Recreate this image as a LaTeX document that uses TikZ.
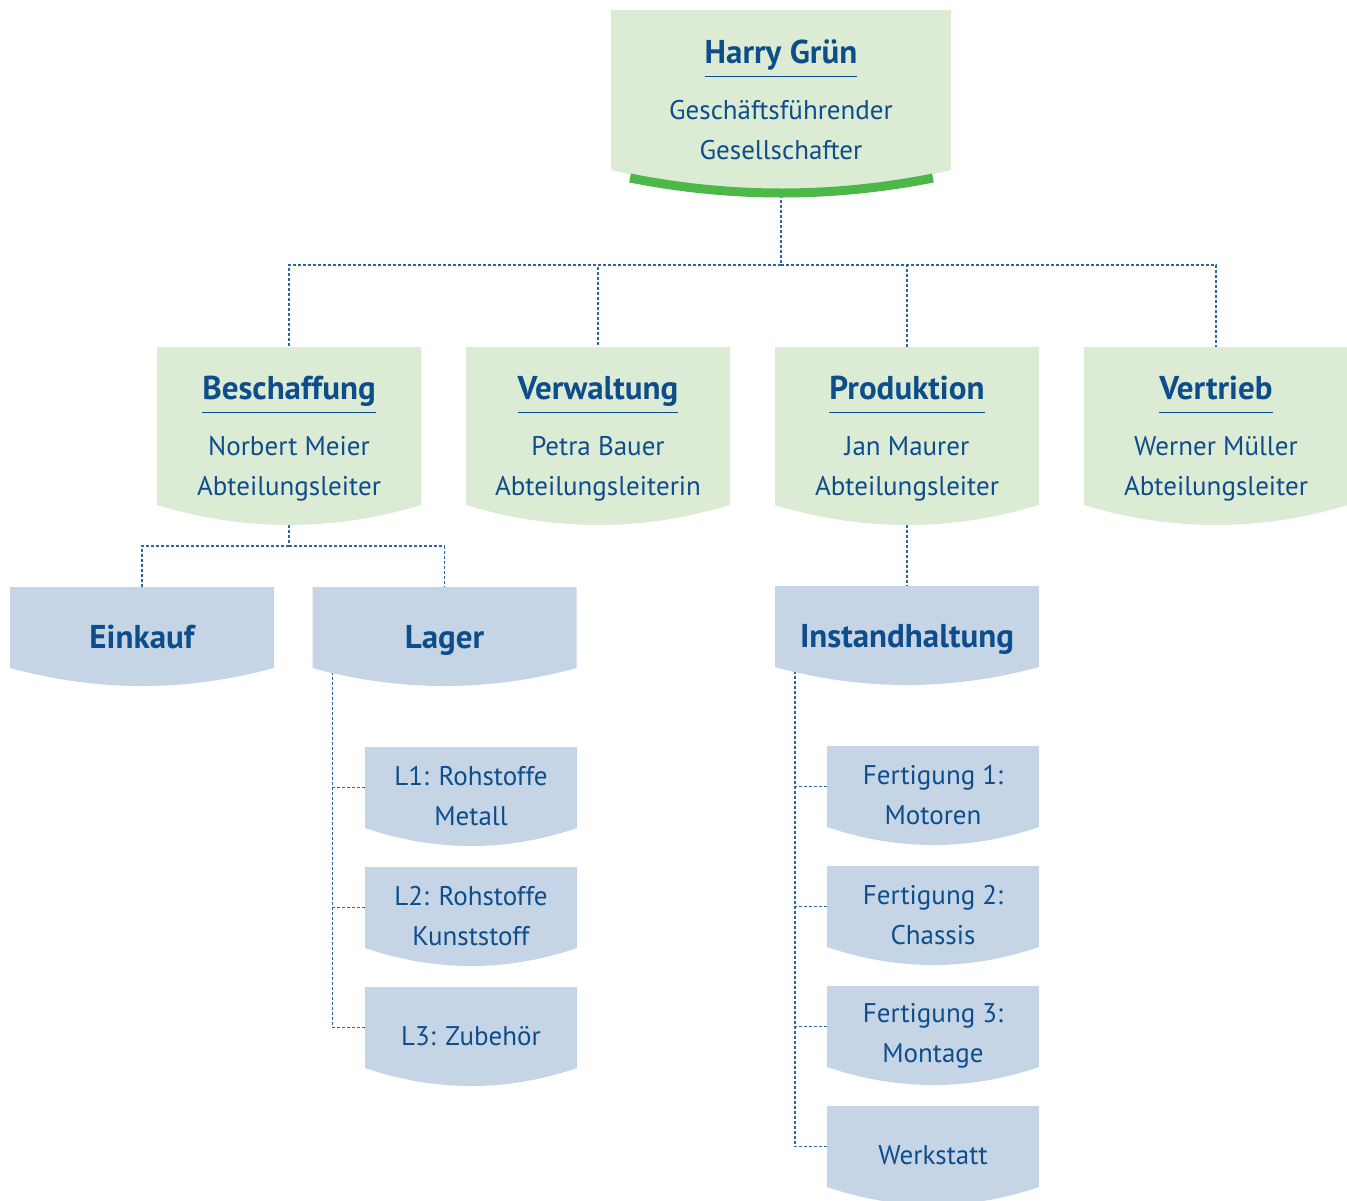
\documentclass[tikz,border=0pt]{standalone}
\usepackage{fontspec}
\setmainfont{PT Sans}
\usetikzlibrary{calc,backgrounds}

\definecolor{gruenhell}{HTML}{DCEBD4}
\definecolor{blauhell}{HTML}{C6D5E5}
\definecolor{schrift}{HTML}{0E4D8B}
\definecolor{linie}{HTML}{2E65A3}
\definecolor{gruen}{HTML}{4CB848}

\newcommand\titelfont{\bfseries\fontsize{33}{40}\selectfont}
\newcommand\ueber[1]{{\setbox0\hbox{#1}\copy0\llap{\rule[-13.5pt]{\wd0}{1.5pt}}}}

\tikzset{
  bogen/.store in=\bogen, bogen=18pt,
  form/.style={path picture={
    \fill[#1] (path picture bounding box.north west) -- (path picture bounding box.north east)
      -- ([yshift=\bogen]path picture bounding box.south east)
      .. controls ($(path picture bounding box.south east)!1/3!(path picture bounding box.south west)+(0pt,-\bogen/3)$)
      and ($(path picture bounding box.south west)!1/3!(path picture bounding box.south east)+(0pt,-\bogen/3)$)
      .. ([yshift=\bogen]path picture bounding box.south west) -- cycle;
  }},
  chefbox/.style={form=gruenhell, bogen=20pt, minimum width=340pt, minimum height=180pt},
  leiter/.style={form=gruenhell, bogen=20pt, minimum width=264pt, minimum height=178pt,
    text depth=0pt},
  abteilung/.style={form=blauhell, bogen=18pt, minimum width=264pt, minimum height=99pt,
    font=\titelfont, text height=28pt, text depth=5pt},
  stelle/.style={form=blauhell, bogen=18pt, minimum width=212pt, minimum height=99pt},
  verbindung/.style={draw=linie, line width=1.2pt, dash pattern=on 3pt off 2pt},
  band/.style={draw=gruen, line width=9pt},
}

\begin{document}
\begin{tikzpicture}[x=1pt,y=-1pt,
  every node/.style={inner sep=0pt, outer sep=0pt, align=center, text=schrift,
    font=\fontsize{27}{40}\selectfont}]
\path[use as bounding box, clip] (0,0) rectangle (1347,1200);

% Geschaeftsfuehrung
\node[chefbox] (chef) at (781,100) {\ueber{\titelfont Harry Grün}\\[16pt]Geschäftsführender\\Gesellschafter};
\draw[band] (630,178) .. controls (731,198) and (832,198) .. (933,178);

% Abteilungen
\node[leiter] (besch) at (289,436) {\ueber{\titelfont Beschaffung}\\[16pt]Norbert Meier\\Abteilungsleiter};
\node[leiter] (verw) at (598,436) {\ueber{\titelfont Verwaltung}\\[16pt]Petra Bauer\\Abteilungsleiterin};
\node[leiter] (prod) at (907,436) {\ueber{\titelfont Produktion}\\[16pt]Jan Maurer\\Abteilungsleiter};
\node[leiter] (vertr) at (1216,436) {\ueber{\titelfont Vertrieb}\\[16pt]Werner Müller\\Abteilungsleiter};

% Unterabteilungen
\node[abteilung] (einkauf) at (142,636.5) {Einkauf};
\node[abteilung] (lager) at (444.5,636.5) {Lager};
\node[abteilung] (inst) at (907,635.5) {Instandhaltung};

\node[stelle] (l1) at (471,796.5) {L1: Rohstoffe\\Metall};
\node[stelle] (l2) at (471,916.5) {L2: Rohstoffe\\Kunststoff};
\node[stelle] (l3) at (471,1036.5) {L3: Zubehör};

\node[stelle] (f1) at (933,795.5) {Fertigung 1:\\Motoren};
\node[stelle] (f2) at (933,915.5) {Fertigung 2:\\Chassis};
\node[stelle] (f3) at (933,1035.5) {Fertigung 3:\\Montage};
\node[stelle] (werk) at (933,1155.5) {Werkstatt};

% Verbindungen
\begin{scope}[on background layer]
\coordinate (k0) at (781,265);
\coordinate (k1) at (289,546);
\draw[verbindung] (chef.south) -- (k0);
\foreach \n in {besch,verw,prod,vertr}
  \draw[verbindung] (k0) -| (\n.north);
\draw[verbindung] (besch.south) -- (k1);
\draw[verbindung] (k1) -| (einkauf.north);
\draw[verbindung] (k1) -| (lager.north);
\draw[verbindung] (prod.south) -- (inst.north);
\foreach \n in {l1,l2,l3}
  \draw[verbindung] ([xshift=20pt]lager.west) |- ([yshift=9pt]\n.west);
\foreach \n in {f1,f2,f3,werk}
  \draw[verbindung] ([xshift=20pt]inst.west) |- ([yshift=9pt]\n.west);
\end{scope}
\end{tikzpicture}
\end{document}
